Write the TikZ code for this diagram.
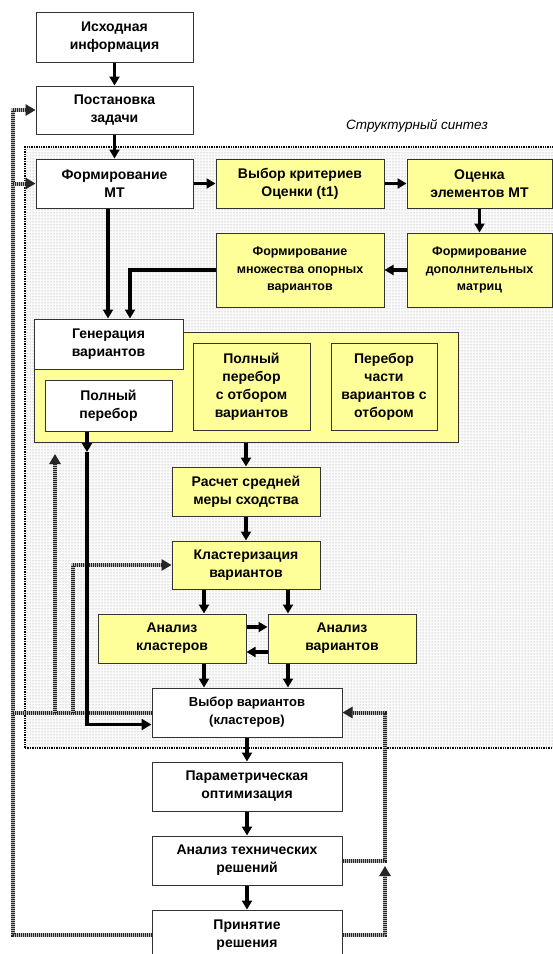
\documentclass[tikz,border=0pt]{standalone}
\usepackage{fontspec}
\setmainfont{Liberation Sans}
\usetikzlibrary{arrows.meta,patterns}
\definecolor{boxyellow}{RGB}{255,255,153}

\begin{document}
\begin{tikzpicture}[x=1pt, y=-1pt,
    box/.style={draw=black!80, line width=1pt, align=center, inner sep=1pt,
                font=\fontsize{14}{18}\selectfont\bfseries},
    wbox/.style={box, fill=white},
    ybox/.style={box, fill=boxyellow},
    small/.style={font=\fontsize{12.5}{17.5}\selectfont\bfseries},
    arr/.style={line width=3.2pt, -{Triangle[length=9pt,width=10pt]}},
    fb/.style={draw=gray!55, line width=4pt,
               postaction={draw=black!85, line width=4pt, dash pattern=on 0.8pt off 1.2pt}},
    fbarr/.style={fb, -{Triangle[length=10pt,width=11pt]}}]
    \useasboundingbox (0,0) rectangle (553,954);

    % область структурного синтеза
    \node[draw, dash pattern=on 1.4pt off 1pt, line width=1.6pt, fill=gray!4,
          postaction={pattern=dots, pattern color=gray!75},
          minimum width=535pt, minimum height=601pt, inner sep=0pt] (syn) at (292.5,447.5) {};
    \node[font=\fontsize{13.5}{16}\selectfont\itshape] (syntitle) at (417,126) {Структурный синтез};

    % блоки
    \node[wbox, minimum width=157pt, minimum height=50pt] (src) at (114.5,37) {Исходная\\информация};
    \node[wbox, minimum width=157pt, minimum height=48pt] (task) at (114.5,110) {Постановка\\задачи};
    \node[wbox, minimum width=157pt, minimum height=49pt] (fmt) at (114.5,183.5) {Формирование\\МТ};
    \node[ybox, minimum width=168pt, minimum height=49pt] (crit) at (300,183.5) {Выбор критериев\\Оценки (t1)};
    \node[ybox, minimum width=145pt, minimum height=49pt] (est) at (479.5,183.5) {Оценка\\элементов МТ};
    \node[ybox, small, minimum width=168pt, minimum height=74pt] (mset) at (300,270) {Формирование\\множества опорных\\вариантов};
    \node[ybox, small, minimum width=145pt, minimum height=74pt] (madd) at (479.5,270) {Формирование\\дополнительных\\матриц};

    \node[ybox, minimum width=424pt, minimum height=110pt] (gblk) at (246,387) {};
    \node[wbox, minimum width=149pt, minimum height=50pt] (gen) at (108.5,344) {Генерация\\вариантов};
    \node[wbox, minimum width=127pt, minimum height=51pt] (full) at (108.5,405.5) {Полный\\перебор};
    \node[ybox, minimum width=117pt, minimum height=87pt] (fsel) at (251.5,386.5) {Полный\\перебор\\с отбором\\вариантов};
    \node[ybox, minimum width=106pt, minimum height=87pt] (psel) at (384,386.5) {Перебор\\части\\вариантов с\\отбором};

    \node[ybox, minimum width=148pt, minimum height=49pt] (avg) at (246,491.5) {Расчет средней\\меры сходства};
    \node[ybox, minimum width=148pt, minimum height=48pt] (clu) at (246,565) {Кластеризация\\вариантов};
    \node[ybox, minimum width=148pt, minimum height=49pt] (acl) at (172,638.5) {Анализ\\кластеров};
    \node[ybox, minimum width=148pt, minimum height=49pt] (avar) at (342,638.5) {Анализ\\вариантов};
    \node[wbox, font=\fontsize{13}{18}\selectfont\bfseries, minimum width=190pt, minimum height=49pt] (sel) at (247,712.5) {Выбор вариантов\\(кластеров)};
    \node[wbox, minimum width=190pt, minimum height=49pt] (opt) at (247,786.5) {Параметрическая\\оптимизация};
    \node[wbox, minimum width=190pt, minimum height=49pt] (tech) at (247,860.5) {Анализ технических\\решений};
    \node[wbox, minimum width=190pt, minimum height=50pt] (dec) at (247,935) {Принятие\\решения};

    % вспомогательные точки
    \coordinate (xl) at (13,0);
    \coordinate (xr) at (385,0);
    \coordinate (xg1) at (108,0);
    \coordinate (xg2) at (130,0);
    \coordinate (xa) at (204,0);
    \coordinate (xb) at (288,0);
    \coordinate (xc) at (73,0);
    \coordinate (fk) at (87,452);
    \coordinate (up1) at (55,454);
    \coordinate (up2) at (385,866);

    % обратные связи
    \draw[fbarr] (dec.west) -- (dec.west -| xl) |- (task.west);
    \draw[fbarr] (fmt.west -| xl) -- (fmt.west);
    \draw[fb] (sel.west) -- (sel.west -| xl);
    \draw[fbarr] (sel.west -| up1) -- (up1);
    \draw[fbarr] (sel.west -| xc) |- (clu.west);
    \draw[fbarr] (dec.east) -| (up2);
    \draw[fbarr] (tech.east) -- (tech.east -| xr) |- (sel.east);

    % основной поток
    \draw[arr] (src) -- (task);
    \draw[arr] (task) -- (fmt);
    \draw[arr] (fmt) -- (crit);
    \draw[arr] (crit) -- (est);
    \draw[arr] (est) -- (madd);
    \draw[arr] (madd) -- (mset);
    \draw[arr] (mset.west) -| (gen.north -| xg2);
    \draw[arr] (fmt.south -| xg1) -- (gen.north -| xg1);
    \draw[arr] (full.south -| fk) -- (fk);
    \draw[line width=3.8pt, -{Triangle[length=10pt,width=11pt]}] (fk) |- ([yshift=-12pt]sel.west);
    \draw[arr] (gblk) -- (avg);
    \draw[arr] (avg) -- (clu);
    \draw[arr] (clu.south -| xa) -- (acl.north -| xa);
    \draw[arr] (clu.south -| xb) -- (avar.north -| xb);
    \draw[arr] ([yshift=11.5pt]acl.east) -- ([yshift=11.5pt]avar.west);
    \draw[arr] ([yshift=-13.5pt]avar.west) -- ([yshift=-13.5pt]acl.east);
    \draw[arr] (acl.south -| xa) -- (sel.north -| xa);
    \draw[arr] (avar.south -| xb) -- (sel.north -| xb);
    \draw[arr] (sel) -- (opt);
    \draw[arr] (opt) -- (tech);
    \draw[arr] (tech) -- (dec);
\end{tikzpicture}
\end{document}
